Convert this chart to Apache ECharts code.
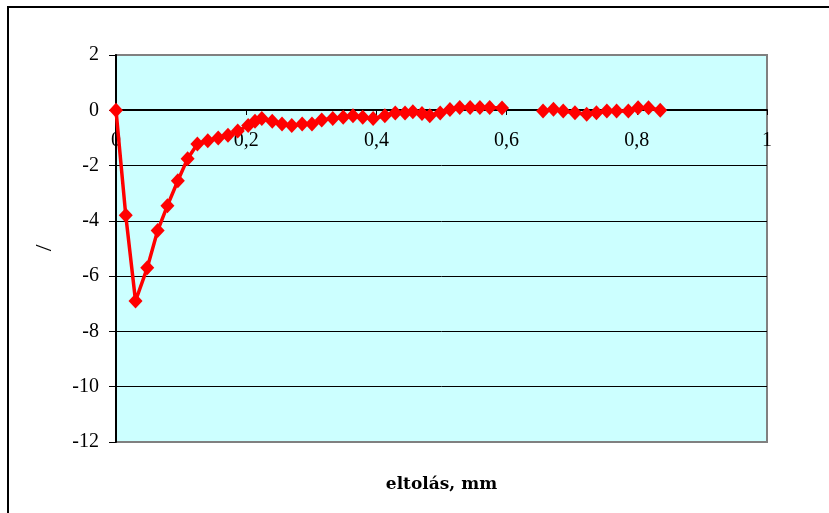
<!DOCTYPE html>
<html>
<head>
<meta charset="utf-8">
<script src="https://cdn.jsdelivr.net/npm/echarts@6/dist/echarts.min.js"></script>
<style>html,body{margin:0;padding:0;background:#fff;}#c{width:829px;height:513px;}</style>
</head>
<body>
<div id="c"></div>
<script>
// segment 1
var x1 = [0, 0.015, 0.030, 0.048, 0.064, 0.079, 0.095, 0.110, 0.125, 0.141, 0.157, 0.172, 0.187, 0.203, 0.2135, 0.224, 0.240, 0.255, 0.270, 0.286, 0.301, 0.316, 0.333, 0.349, 0.364, 0.379, 0.395, 0.413, 0.429, 0.444, 0.456, 0.470, 0.482, 0.498, 0.513, 0.528, 0.544, 0.559, 0.574, 0.593];
var y1 = [0, -3.8, -6.9, -5.7, -4.35, -3.45, -2.55, -1.75, -1.22, -1.1, -1.0, -0.9, -0.75, -0.55, -0.4, -0.3, -0.4, -0.5, -0.55, -0.5, -0.5, -0.35, -0.3, -0.25, -0.2, -0.25, -0.3, -0.2, -0.1, -0.1, -0.05, -0.12, -0.2, -0.1, 0.03, 0.1, 0.1, 0.1, 0.1, 0.08];
// segment 2
var x2 = [0.656, 0.672, 0.687, 0.705, 0.723, 0.738, 0.754, 0.769, 0.787, 0.802, 0.818, 0.836];
var y2 = [-0.03, 0.04, -0.03, -0.09, -0.14, -0.09, -0.03, -0.03, -0.03, 0.09, 0.09, 0.0];
var xName = 'eltolás, mm';
var yName = '/';

var data = [];
x1.forEach(function(v, i){ data.push([v, y1[i]]); });
data.push([0.625, '-']);
x2.forEach(function(v, i){ data.push([v, y2[i]]); });

var font = 'Liberation Serif';
var chart = echarts.init(document.getElementById('c'), null, {renderer: 'canvas'});
var fmt = function(v){ return String(+v.toFixed(1)).replace('.', ','); };
chart.setOption({
  animation: false,
  backgroundColor: '#fff',
  graphic: [{
    type: 'rect', z: -10,
    shape: {x: 8, y: 7, width: 840, height: 540},
    style: {fill: 'none', stroke: '#000', lineWidth: 2}
  }, {
    type: 'text', x: 45, y: 248, rotation: Math.PI / 2,
    style: {text: yName, fontFamily: font, fontSize: 24, fill: '#000', align: 'center', verticalAlign: 'middle'}
  }],
  grid: {left: 116, top: 55, width: 651, height: 387, show: true,
         backgroundColor: '#CCFFFF', borderColor: '#808080', borderWidth: 2},
  xAxis: [{
    type: 'value', min: 0, max: 1, interval: 0.2, position: 'bottom',
    offset: -332,
    axisLine: {show: true, onZero: false, lineStyle: {color: '#000', width: 2}},
    axisTick: {show: true, inside: false, length: 5, lineStyle: {color: '#000', width: 1}},
    axisLabel: {fontFamily: font, fontSize: 20, color: '#000', margin: 21, formatter: fmt},
    splitLine: {show: false}
  }, {
    type: 'value', min: 0, max: 1, interval: 0.2, position: 'bottom',
    name: xName, nameLocation: 'middle', nameGap: 34,
    nameTextStyle: {fontFamily: 'DejaVu Serif', fontSize: 17, fontWeight: 'bold', color: '#000'},
    axisLine: {show: false, onZero: false},
    axisTick: {show: false}, axisLabel: {show: false}, splitLine: {show: false}
  }],
  yAxis: {
    type: 'value', min: -12, max: 2, interval: 2,
    axisLine: {show: true, onZero: false, lineStyle: {color: '#000', width: 2}},
    axisTick: {show: true, inside: false, length: 7, lineStyle: {color: '#000', width: 1}},
    axisLabel: {fontFamily: font, fontSize: 20, color: '#000', margin: 17},
    splitLine: {show: true, lineStyle: {color: ['#808080', '#000', '#000', '#000', '#000', '#000', '#000', '#808080'], width: 1}}
  },
  series: [{
    type: 'line', data: data, connectNulls: false, xAxisIndex: 0,
    symbol: 'diamond', symbolSize: [14, 15], showSymbol: true,
    lineStyle: {color: '#FF0000', width: 3.5},
    itemStyle: {color: '#FF0000'}
  }]
});
</script>
</body>
</html>
